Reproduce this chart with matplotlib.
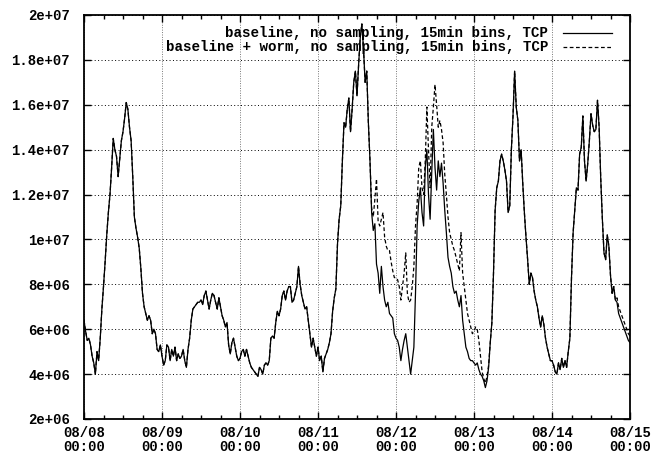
import numpy as np
import matplotlib
matplotlib.use('Agg')
import matplotlib.pyplot as plt
from matplotlib.lines import Line2D

# TCP volume per bin (x 1e6), one value every 30 min, one list per day
tcp_0808 = [6.4, 5.9, 5.5, 5.6, 5.3, 4.8, 4.5, 4.0, 5.0, 4.6,
            5.6, 6.9, 7.9, 9.0, 10.2, 11.2, 12.0, 13.2, 14.5, 14.0,
            13.7, 12.8, 13.6, 14.4, 14.8, 15.4, 16.1, 15.8, 15.0, 14.4,
            12.8, 11.0, 10.5, 10.1, 9.6, 8.7, 7.6, 7.0, 6.7, 6.4,
            6.6, 6.4, 5.8, 6.0, 5.8, 5.1, 5.0, 5.3]
tcp_0809 = [4.8, 4.4, 4.6, 5.3, 5.2, 4.6, 5.1, 4.8, 5.2, 4.6,
            4.9, 4.7, 4.8, 5.1, 4.6, 4.3, 5.1, 5.6, 6.4, 6.9,
            7.0, 7.1, 7.2, 7.2, 7.3, 7.1, 7.5, 7.7, 7.3, 6.9,
            7.3, 7.6, 7.5, 7.2, 6.9, 7.4, 7.0, 6.6, 6.4, 6.1,
            6.3, 5.3, 4.9, 5.4, 5.6, 5.2, 4.8, 4.6]
tcp_0810 = [4.7, 5.0, 5.1, 4.8, 5.1, 4.8, 4.5, 4.3, 4.2, 4.1,
            4.0, 3.9, 4.3, 4.2, 4.0, 4.4, 4.5, 4.4, 4.6, 5.6,
            5.7, 5.6, 6.3, 6.8, 6.6, 6.9, 7.5, 7.7, 7.3, 7.7,
            7.9, 7.9, 7.2, 7.3, 7.6, 7.9, 8.8, 8.0, 7.5, 7.2,
            6.9, 7.0, 6.4, 5.8, 5.2, 5.6, 5.2, 4.8]
tcp_0811 = [5.2, 4.6, 4.8, 4.1, 4.7, 4.9, 5.1, 5.4, 5.8, 6.8,
            7.4, 7.8, 9.8, 10.9, 11.5, 13.5, 15.2, 15.0, 15.8, 16.3,
            14.8, 15.8, 17.0, 17.5, 16.4, 17.8, 19.0, 19.6, 18.5, 17.0,
            17.5, 15.2, 13.5, 11.2, 10.4, 10.7, 8.9, 8.5, 7.6, 8.8,
            7.9, 7.3, 7.0, 7.2, 6.7, 6.6, 6.5, 5.8]
tcp_0812 = [5.6, 5.5, 5.2, 4.6, 5.1, 5.5, 5.8, 5.2, 4.6, 4.0,
            4.6, 5.2, 7.6, 10.6, 11.7, 12.3, 11.2, 10.6, 13.2, 14.0,
            12.0, 10.9, 13.0, 14.9, 13.2, 12.2, 13.5, 12.8, 13.4, 12.5,
            11.3, 10.3, 9.2, 8.8, 8.5, 7.9, 7.6, 7.7, 7.3, 7.0,
            7.5, 6.4, 5.8, 5.2, 5.0, 4.7, 4.6, 4.6]
tcp_0813 = [4.5, 4.4, 4.5, 4.2, 4.0, 3.9, 3.7, 3.4, 3.7, 4.3,
            5.4, 6.3, 8.5, 11.3, 12.3, 12.6, 13.5, 13.8, 13.5, 13.1,
            12.6, 11.2, 11.5, 14.0, 15.5, 17.5, 15.9, 15.3, 13.5, 14.0,
            12.5, 11.2, 10.1, 9.1, 8.0, 8.5, 8.3, 7.7, 7.3, 7.0,
            6.5, 6.1, 6.6, 6.2, 5.6, 5.2, 4.9, 4.6]
tcp_0814 = [4.6, 4.4, 4.1, 4.0, 4.5, 4.2, 4.7, 4.3, 4.6, 4.3,
            5.0, 5.6, 8.3, 10.3, 11.3, 12.3, 12.2, 13.8, 14.1, 15.5,
            13.5, 12.6, 13.4, 14.4, 15.6, 15.1, 14.8, 14.9, 16.2, 15.0,
            12.7, 10.9, 9.4, 9.1, 10.2, 9.7, 8.4, 7.6, 7.9, 7.3,
            7.2, 6.7, 6.5, 6.3, 6.1, 5.9, 5.7, 5.5]
tcp_0815 = [5.4]

# with the worm: only where it departs from the baseline
worm_0811_0813 = [13.5, 11.4, 11.0, 11.8, 12.7, 10.8, 10.6, 10.9, 11.2, 10.1,
                  9.7, 9.5, 9.5, 9.0, 8.6, 8.3,
                  8.3, 8.2, 7.9, 7.3, 7.9, 8.5, 9.4, 7.6, 7.2, 7.3,
                  7.9, 8.8, 10.6, 11.6, 13.2, 13.5, 12.3, 12.0, 13.5, 15.9,
                  14.0, 12.3, 15.0, 15.9, 16.9, 16.0, 15.0, 15.3, 14.9, 14.3,
                  12.9, 12.0, 11.0, 10.3, 10.0, 9.7, 9.5, 9.2, 8.9, 8.6,
                  10.3, 8.5, 7.9, 7.3, 6.7, 6.4, 6.1, 5.8,
                  5.9, 6.1, 6.0, 5.5, 4.8, 4.1, 3.8, 3.6, 3.9, 4.4]
worm_0814_tail = [7.4, 7.0, 6.8, 6.6, 6.4, 6.2, 6.0, 5.8, 5.7]
worm_start_h = [88, 164]   # hours after 08/08 00:00

day_labels = ['08/08\n00:00', '08/09\n00:00', '08/10\n00:00', '08/11\n00:00',
              '08/12\n00:00', '08/13\n00:00', '08/14\n00:00', '08/15\n00:00']
ytick_values = [2e6, 4e6, 6e6, 8e6, 1e7, 1.2e7, 1.4e7, 1.6e7, 1.8e7, 2e7]
ytick_labels = ['2e+06', '4e+06', '6e+06', '8e+06', '1e+07',
                '1.2e+07', '1.4e+07', '1.6e+07', '1.8e+07', '2e+07']
legend_labels = ['baseline, no sampling, 15min bins, TCP',
                 'baseline + worm, no sampling, 15min bins, TCP']

step_h = 0.5
baseline = np.array(tcp_0808 + tcp_0809 + tcp_0810 + tcp_0811 +
                    tcp_0812 + tcp_0813 + tcp_0814 + tcp_0815) * 1e6
hours = np.arange(len(baseline)) * step_h

worm = baseline.copy()
for start, seg in zip(worm_start_h, [worm_0811_0813, worm_0814_tail]):
    i = int(start / step_h)
    worm[i:i + len(seg)] = np.array(seg) * 1e6

mono = ['Liberation Mono', 'DejaVu Sans Mono']
plt.rcParams['font.family'] = mono
plt.rcParams['font.weight'] = 'bold'
plt.rcParams['font.size'] = 10

fig = plt.figure(figsize=(6.56, 4.58), dpi=100)
ax = fig.add_axes([84 / 656, 1 - 419 / 458, 546 / 656, 404 / 458])

ax.plot(hours, worm, color='black', lw=0.9, ls=(0, (3, 2)))
ax.plot(hours, baseline, color='black', lw=0.9)

ax.set_xlim(0, 168)
ax.set_ylim(2e6, 2e7)
ax.set_xticks(np.arange(0, 169, 24))
ax.set_xticklabels(day_labels, linespacing=1.05)
ax.set_xticks(np.arange(0, 169, 6), minor=True)
ax.set_yticks(ytick_values)
ax.set_yticklabels(ytick_labels)

ax.tick_params(which='both', direction='in', top=True, right=True, width=1.0)
ax.tick_params(which='major', length=5)
ax.tick_params(which='minor', length=3)
ax.tick_params(axis='y', pad=10)
ax.tick_params(axis='x', pad=5)

ax.grid(axis='y', color='black', lw=0.7, ls=(0, (1, 2.5)))
ax.grid(axis='x', color='#777777', lw=0.7, ls=(0, (1, 1.5)))
for s in ax.spines.values():
    s.set_linewidth(1.3)

# key in the top right corner, text right-aligned before the line sample
styles = ['-', (0, (3, 2))]
for k, (label, ls) in enumerate(zip(legend_labels, styles)):
    y = 0.956 - k * 0.034
    ax.text(0.85, y, label, transform=ax.transAxes, ha='right', va='center',
            fontsize=10.2)
    ax.add_line(Line2D([0.877, 0.967], [y, y], transform=ax.transAxes,
                       color='black', lw=0.9, ls=ls))

fig.savefig('out.png', dpi=100)
